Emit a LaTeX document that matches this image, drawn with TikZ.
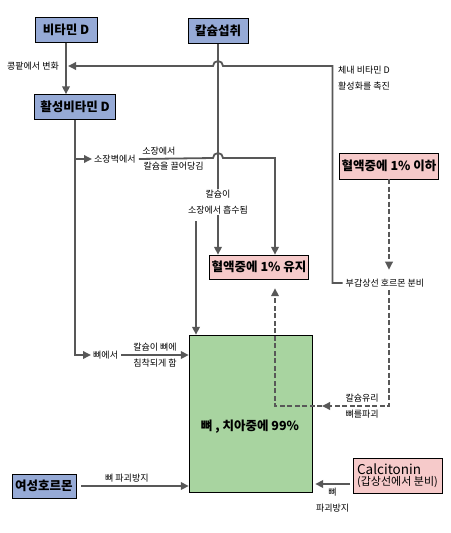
\documentclass[tikz,border=0pt]{standalone}
\usepackage{fontspec}
\setmainfont{Noto Sans CJK KR}
\usepackage{xcolor}
\usetikzlibrary{arrows.meta, positioning, calc}
\definecolor{boxblue}{RGB}{150,170,214}
\definecolor{boxpink}{RGB}{246,202,202}
\definecolor{boxgreen}{RGB}{168,212,160}
\definecolor{linegray}{RGB}{88,88,88}

\begin{document}
\begin{tikzpicture}[x=1pt, y=-1pt,
  bluebox/.style={draw=black, fill=boxblue, font=\fontsize{12.5}{14}\selectfont\bfseries,
                  minimum height=25pt, inner sep=2pt},
  pinkbox/.style={draw=black, fill=boxpink, font=\fontsize{12.5}{14}\selectfont\bfseries,
                  minimum height=25pt, inner sep=2pt},
  bonebox/.style={draw=black, fill=boxgreen, minimum width=123pt, minimum height=157pt},
  note/.style={font=\fontsize{9}{16}\selectfont, inner sep=3pt},
  flow/.style={draw=linegray, line width=1.8pt, -{Triangle[length=8pt, width=7.5pt]}},
  dflow/.style={flow, dash pattern=on 5pt off 2.5pt}]
  \useasboundingbox (0,0) rectangle (450,533);

  % Boxes
  \node[bluebox, minimum width=62pt] (vitD)  at (66,30)  {비타민 D};
  \node[bluebox, minimum width=60pt] (calin) at (218,31) {칼슘섭취};
  \node[bluebox, minimum width=81pt] (actD)  at (75,107) {활성비타민 D};
  \node[pinkbox, minimum width=98pt, minimum height=24pt] (blood) at (259,267) {혈액중에 1\% 유지};
  \node[pinkbox, minimum width=98pt, minimum height=26pt] (low)   at (389,166) {혈액중에 1\% 이하};
  \node[bonebox] (bone) at (250.5,413.5) {};
  \node[font=\fontsize{12.5}{14}\selectfont\bfseries] (bonetxt) at (250,427) {뼈 , 치아중에 99\%};
  \node[bluebox, minimum width=64pt, minimum height=24pt] (estro) at (44,486) {여성호르몬};
  \node[draw=black, fill=boxpink, minimum width=89pt, minimum height=35pt, inner sep=3pt,
        align=left] (calc) at (397.5,475.5)
    {{\fontsize{13.5}{15}\selectfont Calcitonin}\\[-1pt]{\fontsize{11}{12}\selectfont (갑상선에서 분비)}};

  % Texts
  \node[note] (kidtxt) at (33,66) {콩팥에서 변화};
  \node[note, anchor=west, align=left] (promo) at (335,78) {체내 비타민 D\\활성화를 촉진};
  \node[note] (pth) at (385,283) {부갑상선 호르몬 분비};
  \node[note, anchor=west] (wall) at (91,159) {소장벽에서};
  \node[note, anchor=west] (inbone) at (90,355) {뼈에서};

  \coordinate (kid)    at (68,66);
  \coordinate (hopA)   at (218,66);
  \coordinate (hopB)   at (218,158);
  \coordinate (intest) at (91,159);
  \coordinate (absorb) at (196,221);
  \coordinate (free)   at (322,406);
  \coordinate (ctout)  at (350,484);

  % Vitamin D
  \draw[flow] (vitD.south) -- (vitD.south |- actD.north);
  \draw[flow] (pth.west) -- ++(-10,0) |- ($(hopA)+(5,0)$)
    arc[start angle=0, end angle=180, radius=5pt] -- (kid);
  \draw[flow] (actD.south) |- ($(inbone.west)+(1,0)$);
  \draw[flow] (actD.south |- intest) -- ($(wall.west)+(1,0)$);

  % Calcium intake
  \draw[flow] (calin.south) -- node[note, fill=white, align=center, pos=0.75, inner sep=1pt]
    {칼슘이\\소장에서 흡수됨} (calin.south |- blood.north);
  \draw[flow] (wall.east) -- node[note, above, pos=0.27] {소장에서}
    node[note, below, pos=0.47] {칼슘을 끌어당김} ($(hopB)-(5,0)$)
    arc[start angle=180, end angle=0, radius=5pt] -| ($(blood.north)+(16,0)$);
  \draw[flow] (absorb) -- (absorb |- bone.north);
  \draw[flow] (inbone.east) -- node[note, above] {칼슘이 뼈에}
    node[note, below] {침착되게 함} (inbone.east -| bone.west);

  % Parathyroid hormone
  \draw[dflow] (low.south) -- ($(low.south |- pth.north)+(0,-6)$);
  \draw[dflow] (low.south |- pth.south) |- node[note, above, pos=0.7] {칼슘유리}
    node[note, below, pos=0.7] {뼈를파괴} (free);
  \draw[dflow, shorten >=9pt] (free) -| ($(blood.south)+(16,0)$);

  % Bone protection
  \draw[flow, shorten <=5pt] (estro.east) -- node[note, above, pos=0.45] {뼈 파괴방지}
    (estro.east -| bone.west);
  \draw[flow] (ctout) -- node[note, below, align=center] {뼈\\파괴방지}
    ($(ctout -| bone.east)+(3,0)$);
\end{tikzpicture}
\end{document}
